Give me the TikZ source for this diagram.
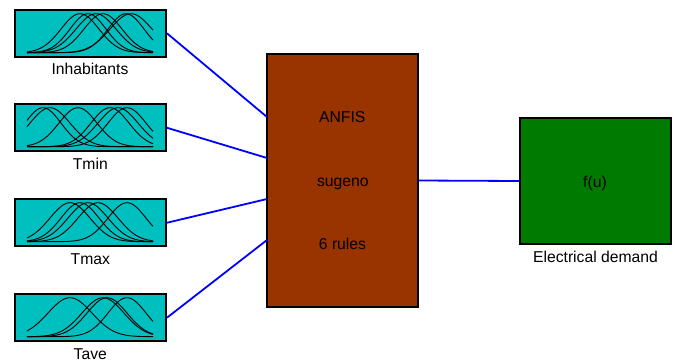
\documentclass[tikz,border=0pt]{standalone}
\usepackage{fontspec}
\setmainfont{Liberation Sans}
\usetikzlibrary{calc}
\definecolor{mfcyan}{RGB}{0,191,191}
\definecolor{anfisbrown}{RGB}{153,51,0}
\definecolor{outgreen}{RGB}{0,123,0}
\definecolor{wireblue}{RGB}{0,0,255}
\newcommand\mfset[2]{%
  \foreach \c/\s in {#2}{%
    \draw[mf] plot[domain=27:153,samples=60,smooth] (\x,{#1-39*exp(-0.5*((\x-\c)/\s)^2)});
  }}
\begin{document}
\begin{tikzpicture}[x=1pt,y=-1pt,
  block/.style={draw=black, line width=1.8pt, inner sep=0pt, minimum width=151pt},
  mfbox/.style={block, fill=mfcyan, minimum height=47pt},
  lbl/.style={font=\fontsize{15.7}{18}\selectfont, inner sep=0pt, anchor=base},
  wire/.style={draw=wireblue, line width=1.8pt},
  mf/.style={line width=0.9pt, draw=black}]
\useasboundingbox (0,0) rectangle (678,362);

% input blocks
\node[mfbox] (inh) at (90.5,33.25) {};
\node[mfbox] (tmin) at (90.5,127.75) {};
\node[mfbox] (tmax) at (90.5,222.75) {};
\node[mfbox] (tave) at (90.5,317.75) {};

\mfset{52.7}{80/19,88/18,96/20,103/19,126/18,131/21}
\mfset{146.7}{43/18,50/20,78/19,110/19,118/20,127/19}
\mfset{241.7}{70/20,80/19,88/20,98/20,127/19}
\mfset{336.7}{70/22,103/21,107/20,127/19}

\node[lbl] (inhlbl) at (90,74) {Inhabitants};
\node[lbl] (tminlbl) at (90.3,169) {Tmin};
\node[lbl] (tmaxlbl) at (90.3,264) {Tmax};
\node[lbl] (tavelbl) at (90.3,359) {Tave};

% ANFIS block
\node[block, fill=anfisbrown, minimum height=253pt] (anfis) at (342.5,180.5) {};
\node[lbl] (t1) at (342.3,122.7) {ANFIS};
\node[lbl] (t2) at (342.8,186.7) {sugeno};
\node[lbl] (t3) at (342.5,249.3) {6 rules};

% output block
\node[block, fill=outgreen, minimum height=126pt] (out) at (595.5,181) {};
\node[lbl] (fu) at (595,187.3) {f(u)};
\node[lbl] (outlbl) at (595.5,262.3) {Electrical demand};

% connection points on ANFIS
\coordinate (p1) at (267,117);
\coordinate (p2) at (267,158);
\coordinate (p3) at (267,199);
\coordinate (p4) at (267,240);

\draw[wire] (inh.east) -- (p1);
\draw[wire] (tmin.east) -- (p2);
\draw[wire] (tmax.east) -- (p3);
\draw[wire] (tave.east) -- (p4);
\draw[wire] (anfis.east) -- (out.west);
\end{tikzpicture}
\end{document}
